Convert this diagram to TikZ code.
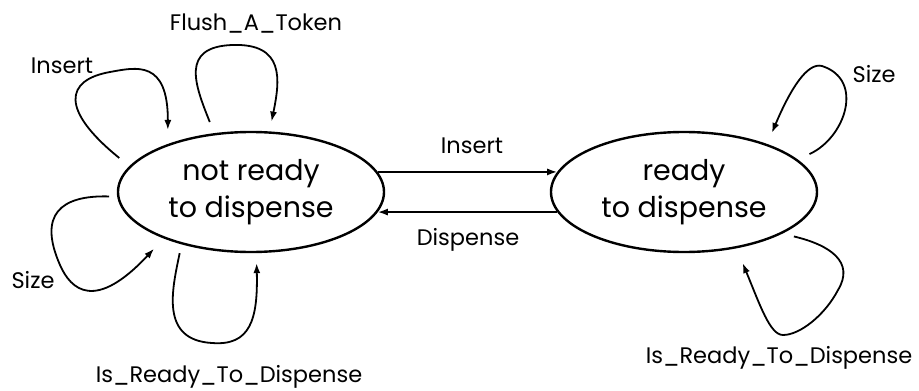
\documentclass[tikz,border=0pt]{standalone}
\usepackage{fontspec}
\setmainfont{Poppins}
\usetikzlibrary{shapes.geometric,arrows.meta}

\begin{document}
\begin{tikzpicture}[x=1pt,y=-1pt,
  stnode/.style={draw,ellipse,line width=2.4pt,minimum width=266pt,minimum height=120pt,
    inner sep=0pt,align=center,font=\fontsize{28.5}{37}\selectfont},
  trans/.style={line width=1.8pt,-{Latex[length=10pt,width=7pt]}},
  lbl/.style={font=\fontsize{22.5}{26}\selectfont}]
\useasboundingbox (0,0) rectangle (919,391);
% states
\node[stnode] (nr) at (251,192) {not ready\\to dispense};
\node[stnode] (rd) at (684,192) {ready\\to dispense};
% transitions between states
\draw[trans] (nr.9) -- (rd.171);
\draw[trans] (rd.189) -- (nr.-9);
\node[lbl] (lmi) at (472,146) {Insert};
\node[lbl] (lmd) at (468,240) {Dispense};
% self loops on not ready
\draw[trans,shorten <=13pt,shorten >=14pt] (nr.168) .. controls (60,110) and (65,80) .. (110,72)
  .. controls (137,67) and (168,60) .. (nr.150);
\draw[trans,shorten <=12pt,shorten >=10pt] (nr.122) .. controls (195,85) and (180,47) .. (232,45)
  .. controls (285,43) and (280,80) .. (nr.73);
\draw[trans,shorten <=8pt,shorten >=14pt] (nr.182) .. controls (60,195) and (38,215) .. (60,265)
  .. controls (71,290) and (95,312) .. (nr.208);
\draw[trans,shorten <=9pt,shorten >=10pt] (nr.217) .. controls (172,290) and (160,340) .. (212,343)
  .. controls (250,346) and (258,320) .. (nr.275);
\node[lbl] (lins) at (62,66) {Insert};
\node[lbl] (lfl) at (256,24) {Flush\_A\_Token};
\node[lbl] (lsz) at (33,280) {Size};
\node[lbl] (lir) at (229,377) {Is\_Ready\_To\_Dispense};
% self loops on ready
\draw[trans,shorten <=13pt,shorten >=12pt] (rd.16) .. controls (845,138) and (865,80) .. (822,66)
  .. controls (807,62) and (790,90) .. (rd.30);
\draw[trans,shorten <=12pt,shorten >=16pt] (rd.-23) .. controls (830,245) and (855,262) .. (838,290)
  .. controls (825,315) and (800,335) .. (783,335) .. controls (770,335) and (760,305) .. (rd.-47);
\node[lbl] (lsr) at (874,74) {Size};
\node[lbl] (lrr) at (779,358) {Is\_Ready\_To\_Dispense};
\end{tikzpicture}
\end{document}
